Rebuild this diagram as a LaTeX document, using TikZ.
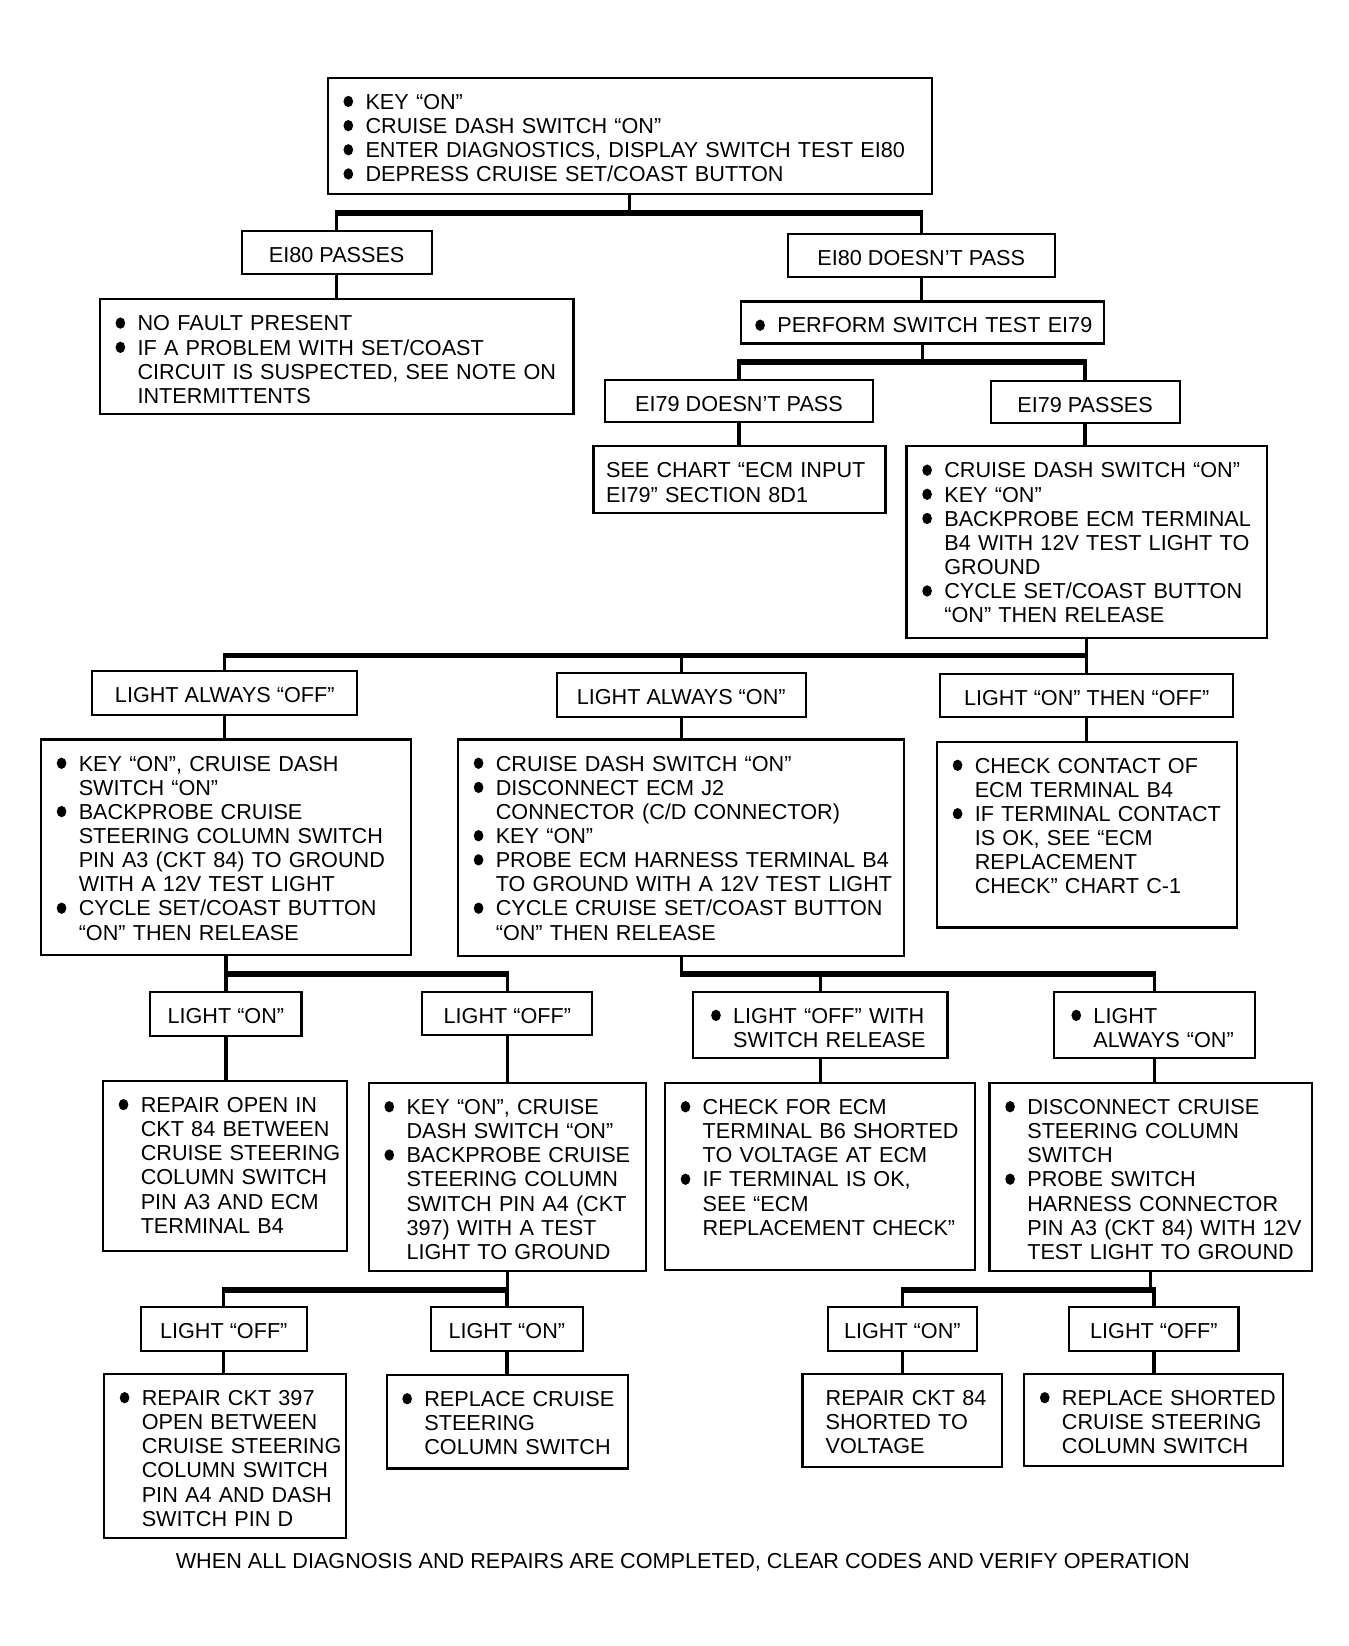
\documentclass[tikz,border=0pt]{standalone}
\usepackage{fontspec}
\setmainfont{Liberation Sans}

\newcommand{\chartfont}{\fontsize{10.3}{11.5}\selectfont}
\newcommand{\bul}{\makebox[10.5pt][l]{\tikz[baseline=0pt]\fill (2.3pt,3.7pt) ellipse [x radius=2.3pt, y radius=2.7pt];}}
\newcommand{\ind}{\hspace*{10.5pt}}

% box given by its corners (x1,y1) (x2,y2), text set from the top
\newcommand{\chartnode}[7][7.5pt]{%
  \pgfmathsetmacro{\cbw}{(#5-#3)/2}%
  \pgfmathsetmacro{\cbd}{(#6-#4)/2-15}%
  \node[stepbox, text width=\cbw pt, text depth=\cbd pt] (#2) at (#3,#4)
    {\leftskip=#1\relax#7\par};}
\newcommand{\labelnode}[6]{%
  \pgfmathsetmacro{\cbw}{(#4-#2)/2}%
  \pgfmathsetmacro{\cbd}{(#5-#3)/2-15}%
  \node[labelbox, minimum width=\cbw pt, text depth=\cbd pt] (#1) at (#2,#3) {#6};}

\tikzset{
  stepbox/.style={draw, line width=1pt, anchor=north west, inner sep=0pt,
    text height=15pt, align=left, font=\chartfont},
  labelbox/.style={draw, line width=1pt, anchor=north west, inner sep=0pt,
    text height=15pt, font=\chartfont},
  link/.style={line width=1.6pt},
  bus/.style={line width=2.8pt, shorten <=-0.8pt, shorten >=-0.8pt},
}

\begin{document}
\begin{tikzpicture}[x=0.5pt, y=-0.5pt]
    \useasboundingbox (0,0) rectangle (1284,1567);

    % first test
    \chartnode{top}{311}{73}{886}{184}{\bul KEY ``ON''\\
      \bul CRUISE DASH SWITCH ``ON''\\
      \bul ENTER DIAGNOSTICS, DISPLAY SWITCH TEST EI80\\
      \bul DEPRESS CRUISE SET/COAST BUTTON}
    \labelnode{pass80}{229}{219}{410}{260}{EI80 PASSES}
    \labelnode{fail80}{749}{222}{1003}{263}{EI80 DOESN'T PASS}
    \chartnode{nofault}{94}{284}{545}{393}{\bul NO FAULT PRESENT\\
      \bul IF A PROBLEM WITH SET/COAST\\
      \ind CIRCUIT IS SUSPECTED, SEE NOTE ON\\
      \ind INTERMITTENTS}
    \chartnode[7pt]{perform}{704}{286}{1050}{326}{\bul PERFORM SWITCH TEST EI79}

    % second test
    \labelnode{fail79}{575}{361}{830}{401}{EI79 DOESN'T PASS}
    \labelnode{pass79}{942}{362}{1122}{402}{EI79 PASSES}
    \chartnode[6pt]{seechart}{564}{424}{842}{487}{SEE CHART ``ECM INPUT\\
      EI79'' SECTION 8D1}
    \chartnode{checkb4}{862}{424}{1205}{606}{\bul CRUISE DASH SWITCH ``ON''\\
      \bul KEY ``ON''\\
      \bul BACKPROBE ECM TERMINAL\\
      \ind B4 WITH 12V TEST LIGHT TO\\
      \ind GROUND\\
      \bul CYCLE SET/COAST BUTTON\\
      \ind ``ON'' THEN RELEASE}

    % test light at B4
    \labelnode{alwoff}{87}{638}{339}{680}{LIGHT ALWAYS ``OFF''}
    \labelnode{alwon}{529}{640}{766}{682}{LIGHT ALWAYS ``ON''}
    \labelnode{onoff}{894}{641}{1173}{682}{LIGHT ``ON'' THEN ``OFF''}
    \chartnode{offsteps}{38}{703}{390}{908}{\bul KEY ``ON'', CRUISE DASH\\
      \ind SWITCH ``ON''\\
      \bul BACKPROBE CRUISE\\
      \ind STEERING COLUMN SWITCH\\
      \ind PIN A3 (CKT 84) TO GROUND\\
      \ind WITH A 12V TEST LIGHT\\
      \bul CYCLE SET/COAST BUTTON\\
      \ind ``ON'' THEN RELEASE}
    \chartnode{onsteps}{435}{703}{860}{909}{\bul CRUISE DASH SWITCH ``ON''\\
      \bul DISCONNECT ECM J2\\
      \ind CONNECTOR (C/D CONNECTOR)\\
      \bul KEY ``ON''\\
      \bul PROBE ECM HARNESS TERMINAL B4\\
      \ind TO GROUND WITH A 12V TEST LIGHT\\
      \bul CYCLE CRUISE SET/COAST BUTTON\\
      \ind ``ON'' THEN RELEASE}
    \chartnode{contact}{891}{705}{1177}{882}{\bul CHECK CONTACT OF\\
      \ind ECM TERMINAL B4\\
      \bul IF TERMINAL CONTACT\\
      \ind IS OK, SEE ``ECM\\
      \ind REPLACEMENT\\
      \ind CHECK'' CHART C-1}

    % third row
    \labelnode{lonA}{142}{943}{286}{985}{LIGHT ``ON''}
    \labelnode{loffA}{401}{943}{563}{984}{LIGHT ``OFF''}
    \chartnode[8.5pt]{offrel}{659}{943}{901}{1006}{\bul LIGHT ``OFF'' WITH\\
      \ind SWITCH RELEASE}
    \chartnode[8.5pt]{alwonB}{1002}{943}{1194}{1006}{\bul LIGHT\\
      \ind ALWAYS ``ON''}
    \chartnode{repairopen}{97}{1028}{329}{1190}{\bul REPAIR OPEN IN\\
      \ind CKT 84 BETWEEN\\
      \ind CRUISE STEERING\\
      \ind COLUMN SWITCH\\
      \ind PIN A3 AND ECM\\
      \ind TERMINAL B4}
    \chartnode{keyon}{350}{1030}{614}{1209}{\bul KEY ``ON'', CRUISE\\
      \ind DASH SWITCH ``ON''\\
      \bul BACKPROBE CRUISE\\
      \ind STEERING COLUMN\\
      \ind SWITCH PIN A4 (CKT\\
      \ind 397) WITH A TEST\\
      \ind LIGHT TO GROUND}
    \chartnode{checkb6}{632}{1030}{927}{1208}{\bul CHECK FOR ECM\\
      \ind TERMINAL B6 SHORTED\\
      \ind TO VOLTAGE AT ECM\\
      \bul IF TERMINAL IS OK,\\
      \ind SEE ``ECM\\
      \ind REPLACEMENT CHECK''}
    \chartnode{disconn}{941}{1030}{1248}{1209}{\bul DISCONNECT CRUISE\\
      \ind STEERING COLUMN\\
      \ind SWITCH\\
      \bul PROBE SWITCH\\
      \ind HARNESS CONNECTOR\\
      \ind PIN A3 (CKT 84) WITH 12V\\
      \ind TEST LIGHT TO GROUND}

    % last row
    \labelnode{loffB}{133}{1243}{291}{1285}{LIGHT ``OFF''}
    \labelnode{lonB}{409}{1243}{554}{1285}{LIGHT ``ON''}
    \labelnode{lonC}{787}{1243}{929}{1285}{LIGHT ``ON''}
    \labelnode{loffC}{1017}{1243}{1178}{1285}{LIGHT ``OFF''}
    \chartnode{repairckt}{98}{1307}{328}{1463}{\bul REPAIR CKT 397\\
      \ind OPEN BETWEEN\\
      \ind CRUISE STEERING\\
      \ind COLUMN SWITCH\\
      \ind PIN A4 AND DASH\\
      \ind SWITCH PIN D}
    \chartnode{replaceA}{367}{1308}{597}{1397}{\bul REPLACE CRUISE\\
      \ind STEERING\\
      \ind COLUMN SWITCH}
    \chartnode[11pt]{repairshort}{763}{1307}{953}{1396}{REPAIR CKT 84\\
      SHORTED TO\\
      VOLTAGE}
    \chartnode{replaceB}{974}{1307}{1220}{1395}{\bul REPLACE SHORTED\\
      \ind CRUISE STEERING\\
      \ind COLUMN SWITCH}

    \node[font=\chartfont] (footer) at (650,1487)
      {WHEN ALL DIAGNOSIS AND REPAIRS ARE COMPLETED, CLEAR CODES AND VERIFY OPERATION};

    % forks
    \coordinate (j1) at (0,203);
    \draw[link] (top.south) -- (top.south |- j1);
    \draw[bus] (pass80.north |- j1) -- (fail80.north |- j1);
    \draw[link] (pass80.north |- j1) -- (pass80.north);
    \draw[link] (fail80.north |- j1) -- (fail80.north);

    \coordinate (j2) at (0,345);
    \draw[link] (perform.south) -- (perform.south |- j2);
    \draw[bus] (fail79.north |- j2) -- (pass79.north |- j2);
    \draw[link] (fail79.north |- j2) -- (fail79.north);
    \draw[link] (pass79.north |- j2) -- (pass79.north);

    \coordinate (j3) at (0,624);
    \draw[link] (checkb4.south) -- (checkb4.south |- j3);
    \draw[bus] (alwoff.north |- j3) -- (checkb4.south |- j3);
    \draw[link] (alwoff.north |- j3) -- (alwoff.north);
    \draw[link] (alwon.north |- j3) -- (alwon.north);
    \draw[link] (onoff.north |- j3) -- (onoff.north);

    \coordinate (j4) at (0,927);
    \draw[link] (offsteps.south) -- (offsteps.south |- j4);
    \draw[bus] (lonA.north |- j4) -- (loffA.north |- j4);
    \draw[link] (lonA.north |- j4) -- (lonA.north);
    \draw[link] (loffA.north |- j4) -- (loffA.north);
    \draw[link] (onsteps.south) -- (onsteps.south |- j4);
    \draw[bus] (onsteps.south |- j4) -- (alwonB.north |- j4);
    \draw[link] (offrel.north |- j4) -- (offrel.north);
    \draw[link] (alwonB.north |- j4) -- (alwonB.north);

    \coordinate (j5) at (0,1228);
    \draw[link] (keyon.south) -- (keyon.south |- j5);
    \draw[bus] (loffB.north |- j5) -- (lonB.north |- j5);
    \draw[link] (loffB.north |- j5) -- (loffB.north);
    \draw[link] (lonB.north |- j5) -- (lonB.north);
    \draw[link] (disconn.south) -- (disconn.south |- j5);
    \draw[bus] (lonC.north |- j5) -- (loffC.north |- j5);
    \draw[link] (lonC.north |- j5) -- (lonC.north);
    \draw[link] (loffC.north |- j5) -- (loffC.north);

    % single steps
    \draw[link] (pass80.south) -- (pass80.south |- nofault.north);
    \draw[link] (fail80.south) -- (fail80.south |- perform.north);
    \draw[link] (fail79.south) -- (fail79.south |- seechart.north);
    \draw[link] (pass79.south) -- (pass79.south |- checkb4.north);
    \draw[link] (alwoff.south) -- (alwoff.south |- offsteps.north);
    \draw[link] (alwon.south) -- (alwon.south |- onsteps.north);
    \draw[link] (onoff.south) -- (onoff.south |- contact.north);
    \draw[link] (lonA.south) -- (lonA.south |- repairopen.north);
    \draw[link] (loffA.south) -- (loffA.south |- keyon.north);
    \draw[link] (offrel.south) -- (offrel.south |- checkb6.north);
    \draw[link] (alwonB.south) -- (alwonB.south |- disconn.north);
    \draw[link] (loffB.south) -- (loffB.south |- repairckt.north);
    \draw[link] (lonB.south) -- (lonB.south |- replaceA.north);
    \draw[link] (lonC.south) -- (lonC.south |- repairshort.north);
    \draw[link] (loffC.south) -- (loffC.south |- replaceB.north);
\end{tikzpicture}
\end{document}
